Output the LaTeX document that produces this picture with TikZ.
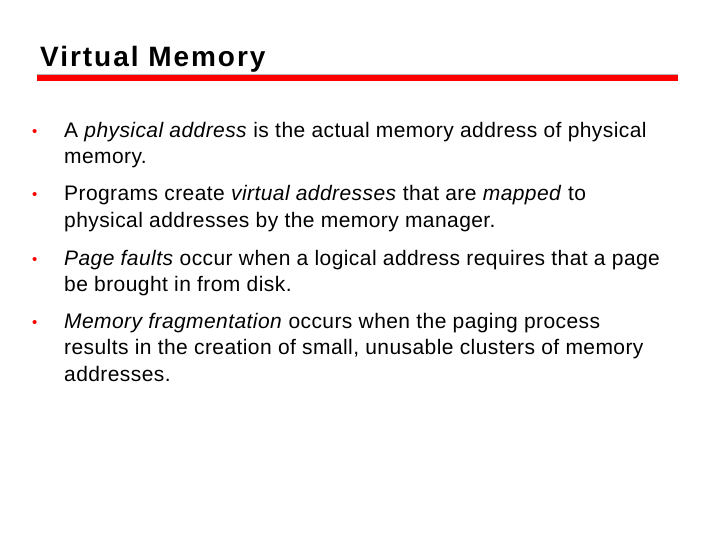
\documentclass[tikz,border=0pt]{standalone}
\usepackage{fontspec}
\setmainfont{Liberation Sans}
\begin{document}
\begin{tikzpicture}[x=1pt,y=-1pt,
  line/.style={anchor=base west,inner sep=0pt,font=\fontsize{21}{24}\selectfont\addfontfeature{LetterSpace=2}},
  bul/.style={anchor=base west,inner sep=0pt,text=red,font=\fontsize{15}{18}\selectfont}]
\useasboundingbox[fill=white] (0,0) rectangle (720,540);
\node[anchor=base west,inner sep=0pt,font=\fontsize{28}{30}\bfseries\addfontfeature{LetterSpace=7}] (title) at (40,67) {Virtual Memory};
\fill[red] (37,75) rectangle (678,81);
\draw[gray!60,line width=0.6pt] (37,74.5) -- (678,74.5);
\node[bul] (b1) at (32,137) {•};
\node[line] (l11) at (64,138) {A \textit{physical address} is the actual memory address of physical};
\node[line] (l12) at (64,164) {memory.};
\node[bul] (b2) at (32,200) {•};
\node[line] (l21) at (64,201) {Programs create \textit{virtual addresses} that are \textit{mapped} to};
\node[line] (l22) at (64,227) {physical addresses by the memory manager.};
\node[bul] (b3) at (32,264) {•};
\node[line] (l31) at (64,265) {\textit{Page faults} occur when a logical address requires that a page};
\node[line] (l32) at (64,291) {be brought in from disk.};
\node[bul] (b4) at (32,327) {•};
\node[line] (l41) at (64,328) {\textit{Memory fragmentation} occurs when the paging process};
\node[line] (l42) at (64,354) {results in the creation of small, unusable clusters of memory};
\node[line] (l43) at (64,381) {addresses.};
\end{tikzpicture}
\end{document}
